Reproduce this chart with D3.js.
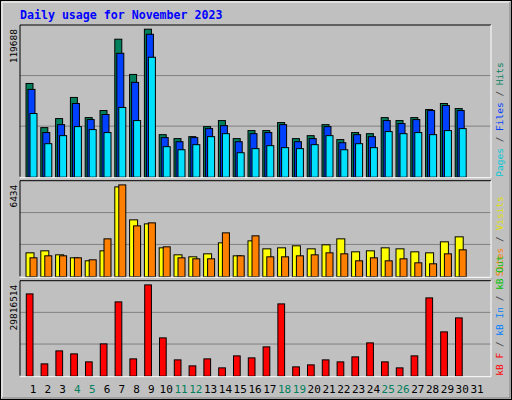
<!DOCTYPE html>
<html>
<head>
<meta charset="utf-8">
<script src="https://cdn.jsdelivr.net/npm/d3@7"></script>
<style>body{margin:0;background:#fff}</style>
</head>
<body>
<div id="chart"></div>
<script>
const days = d3.range(1, 32);
const weekends = [4, 5, 11, 12, 18, 19, 25, 26];
const hits = [75800,40100,47400,64500,48200,53900,111600,83100,119688,34400,31200,32800,40900,45800,31200,37700,37700,44200,31200,33600,42500,30400,36100,35200,48200,45800,48200,54700,59600,55500];
const files = [71000,36100,42500,59600,46600,50700,100200,76700,115600,32000,28700,32000,39300,41700,28700,35200,36100,42500,28700,31200,40900,27900,34400,32800,45800,43400,46600,53900,58000,53900];
const pages = [51500,27100,33600,40900,38500,36100,56400,45800,97000,24700,22200,26300,32800,35200,19800,23100,25500,23900,23100,26300,33600,22200,27100,23900,36900,35200,36100,34400,37700,39300];
const visits = [1678,1818,1538,1329,1119,1818,6294,3986,3706,2028,1538,1399,1608,2378,1469,2517,1958,2028,2168,1958,2238,2657,1748,1818,2028,1958,1748,1678,2448,2797];
const sites = [1329,1469,1469,1329,1189,2657,6434,3566,3776,2098,1329,1259,1259,3077,1469,2867,1399,1399,1469,1538,1678,1608,1119,1329,1119,1259,979,909,1608,1888];
const kbytes = [26878000,4026000,8270000,7291000,4679000,10555000,24267000,5659000,29816514,12514000,5332000,3373000,5659000,2720000,6638000,5985000,9576000,23614000,3047000,3700000,5332000,4679000,6312000,10882000,4679000,2720000,6638000,25572000,14473000,19043000];

const W = 512, H = 400;
const mono = "'DejaVu Sans Mono', monospace";
const svg = d3.select("#chart").append("svg").attr("width", W).attr("height", H);

// background + bevel
svg.append("rect").attr("x", 0.5).attr("y", 0.5).attr("width", W - 1).attr("height", H - 1)
  .attr("fill", "#c0c0c0").attr("stroke", "#000");
svg.append("path").attr("d", `M2,${H-2}V2H${W-2}`).attr("stroke", "#fff").attr("fill", "none");
svg.append("path").attr("d", `M2,${H-2}H${W-2}V2`).attr("stroke", "#808080").attr("fill", "none");

svg.append("text").attr("x", 20).attr("y", 19).text("Daily usage for November 2023")
  .attr("font-family", mono).attr("font-weight", "bold").attr("font-size", 11.6).attr("fill", "#0000ff");

const x = d3.scaleBand().domain(days).range([25.5, 25.5 + 31 * 14.8]);
const x0 = 20, x1 = 491;

function panel(top, bottom, max, series, label, rlabel) {
  const g = svg.append("g");
  const y = d3.scaleLinear().domain([0, max]).range([bottom, top + 3.7]);
  [1, 2].forEach(k => {
    const gy = bottom - (bottom - top) * k / 3;
    g.append("line").attr("x1", x0).attr("x2", x1).attr("y1", gy).attr("y2", gy).attr("stroke", "#808080");
  });
  series.forEach(s => {
    g.selectAll(null).data(s.data).join("rect")
      .attr("x", (d, i) => x(days[i]) + s.dx + 0.5)
      .attr("width", s.w)
      .attr("y", d => y(d) + 0.5)
      .attr("height", d => bottom - y(d))
      .attr("fill", s.color).attr("stroke", "#000");
  });
  g.append("path").attr("d", `M${x0},${bottom}V${top}H${x1}`).attr("stroke", "#000").attr("fill", "none");
  g.append("path").attr("d", `M${x0},${bottom + 1}H${x1}V${top}`).attr("stroke", "#fff").attr("fill", "none");
  g.append("text").attr("transform", `translate(17,${top + 4}) rotate(-90)`)
    .attr("text-anchor", "end").attr("font-family", mono).attr("font-size", 9.5).text(label);
  const t = g.append("text").attr("transform", `translate(503,${bottom}) rotate(-90)`)
    .attr("font-family", mono).attr("font-size", 9.5);
  rlabel.forEach((p, i) => {
    if (i) t.append("tspan").attr("fill", "#404040").text(" / ");
    t.append("tspan").attr("fill", p[1]).text(p[0]);
  });
}

panel(25, 176.7, 119688, [
  { data: hits, color: "#00805c", dx: 0, w: 7 },
  { data: files, color: "#0040ff", dx: 2, w: 7 },
  { data: pages, color: "#00e0ff", dx: 4, w: 7 }
], "119688", [["Pages", "#00c8d8"], ["Files", "#0040ff"], ["Hits", "#00805c"]]);

panel(180.7, 276.3, 6434, [
  { data: visits, color: "#ffff00", dx: 0, w: 8 },
  { data: sites, color: "#ff8000", dx: 4, w: 7 }
], "6434", [["Sites", "#ff8000"], ["Visits", "#e0e000"]]);

panel(280.7, 375.7, 29816514, [
  { data: kbytes, color: "#ff0000", dx: 0.3, w: 6.7 }
], "29816514", [["kB F", "#ff0000"], ["kB In", "#0080ff"], ["kB Out", "#00c000"]]);

svg.selectAll(".day").data(days).join("text")
  .attr("x", d => x(d) + 7.5).attr("y", 393)
  .attr("text-anchor", "middle").attr("font-family", mono).attr("font-size", 11)
  .attr("fill", d => weekends.includes(d) ? "#00805c" : "#000").text(d => d);
</script>
</body>
</html>
